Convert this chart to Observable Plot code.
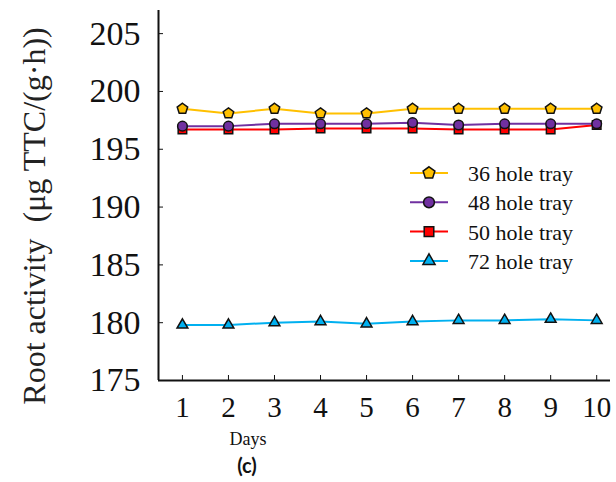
<!DOCTYPE html>
<html><head><meta charset="utf-8">
<script src="https://cdn.jsdelivr.net/npm/d3@7"></script>
<script src="https://cdn.jsdelivr.net/npm/@observablehq/plot@0.6"></script>
<style>
body{margin:0;background:#fff;}
#wrap{position:relative;width:616px;height:482px;font-family:"Liberation Serif","Times New Roman",serif;}
#ylab{position:absolute;left:34px;top:216px;transform:translate(-50%,-50%) rotate(-90deg);white-space:nowrap;font-size:32px;color:#222;}
#days{position:absolute;left:248px;top:429px;transform:translateX(-50%);font-size:18px;color:#111;}
#cap{position:absolute;left:247px;top:453px;transform:translateX(-50%);font-family:Lato,sans-serif;font-weight:bold;font-size:20px;color:#111;}
#legend{position:absolute;left:400px;top:157px;}
#wrap svg text{font-family:"Liberation Serif","Times New Roman",serif !important;}
</style></head>
<body><div id="wrap"><div id="ylab">Root activity&nbsp;&nbsp;(μg TTC/(g·h))</div><div id="days">Days</div><div id="cap">(c)</div></div>
<script>
const days = [1,2,3,4,5,6,7,8,9,10];
const seriesNames = ["36 hole tray","48 hole tray","50 hole tray","72 hole tray"];
const tray36 = [198.5,198.1,198.5,198.1,198.1,198.5,198.5,198.5,198.5,198.5];
const tray48 = [197.0,197.0,197.2,197.2,197.2,197.3,197.1,197.2,197.2,197.2];
const tray50 = [196.7,196.7,196.7,196.8,196.8,196.8,196.7,196.7,196.7,197.1];
const tray72 = [179.8,179.8,180.0,180.1,179.9,180.1,180.2,180.2,180.3,180.2];
const yTicks = [175,180,185,190,195,200,205];
const xDomain = [0.48, 10.3];
const yDomain = [175, 207];

const colors = {"36 hole tray":"#FFC000","48 hole tray":"#7030A0","50 hole tray":"#FF0000","72 hole tray":"#00B0F0"};
const pentagon = {draw(ctx, size){const r=Math.sqrt(size/Math.PI)*1.15;for(let k=0;k<5;k++){const a=-Math.PI/2+k*2*Math.PI/5;const x=r*Math.cos(a),y=r*Math.sin(a);k?ctx.lineTo(x,y):ctx.moveTo(x,y);}ctx.closePath();}};
const smallTriangle = {draw(ctx, size){d3.symbolTriangle.draw(ctx, size*0.7);}};
const symbols = {"36 hole tray":pentagon,"48 hole tray":d3.symbolCircle,"50 hole tray":d3.symbolSquare,"72 hole tray":smallTriangle};
const allVals = {"36 hole tray":tray36,"48 hole tray":tray48,"50 hole tray":tray50,"72 hole tray":tray72};
const drawOrder = ["72 hole tray","50 hole tray","48 hole tray","36 hole tray"];
const rows = drawOrder.flatMap(s => days.map((d,i)=>({day:d, value:allVals[s][i], series:s})));

const marks = [];
for (const s of drawOrder) {
  const data = rows.filter(r=>r.series===s);
  marks.push(Plot.line(data,{x:"day",y:"value",stroke:colors[s],strokeWidth:2}));
}
for (const s of drawOrder) {
  const data = rows.filter(r=>r.series===s);
  marks.push(Plot.dot(data,{x:"day",y:"value",fill:colors[s],stroke:"#111",strokeWidth:1.5,symbol:()=>symbols[s],r:4.8}));
}
const chart = Plot.plot({
  width:616, height:425,
  marginLeft:158, marginRight:6, marginTop:10, marginBottom:45,
  style:{fontFamily:"'Liberation Serif', 'Times New Roman', serif",background:"white",color:"#111"},
  x:{domain:xDomain},
  y:{domain:yDomain},
  marks:[
    Plot.ruleX([xDomain[0]],{stroke:"#111",strokeWidth:2}),
    Plot.ruleY([yDomain[0]],{stroke:"#111",strokeWidth:2}),
    Plot.axisY({ticks:yTicks,tickSize:-5,tickPadding:23,fontSize:34,label:null,tickFormat:d=>String(d)}),
    Plot.axisX({ticks:days,tickSize:-5,tickPadding:21,fontSize:29,label:null,tickFormat:d=>String(d)}),
    ...marks
  ]
});
document.getElementById("wrap").prepend(chart);
chart.style.position="absolute";chart.style.left="0";chart.style.top="0";

// legend
const lg = d3.select("#wrap").append("svg").attr("id","legend").attr("width",210).attr("height",120);
seriesNames.forEach((s,i)=>{
  const g = lg.append("g").attr("transform",`translate(0,${16+i*29.3})`);
  g.append("line").attr("x1",10).attr("x2",48).attr("stroke",colors[s]).attr("stroke-width",2);
  g.append("path").attr("transform","translate(29,0)").attr("d",d3.symbol(symbols[s], Math.PI*5.4*5.4)()).attr("fill",colors[s]).attr("stroke","#111").attr("stroke-width",1.5);
  g.append("text").attr("x",68).attr("y",8).style("font-size","22px").attr("fill","#111").text(s);
});
</script></body></html>
